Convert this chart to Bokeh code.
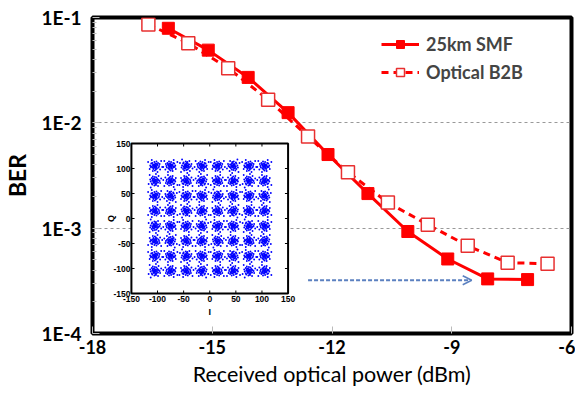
from bokeh.plotting import figure
from bokeh.models import (FixedTicker, CustomJSTickFormatter, Range1d, LinearScale,
                          Arrow, OpenHead)
from bokeh.core.properties import value
from bokeh.embed import file_html
from bokeh.resources import INLINE

# ---- data ----
smf_x = [-16.1, -15.1, -14.1, -13.1, -12.1, -11.1, -10.1, -9.1, -8.1, -7.1]
smf_ber = [7.9e-2, 4.9e-2, 2.7e-2, 1.25e-2, 5.0e-3, 2.13e-3, 9.3e-4, 5.1e-4, 3.3e-4, 3.25e-4]
b2b_x = [-16.6, -15.6, -14.6, -13.6, -12.6, -11.6, -10.6, -9.6, -8.6, -7.6, -6.6]
b2b_ber = [8.6e-2, 5.7e-2, 3.3e-2, 1.66e-2, 7.4e-3, 3.4e-3, 1.75e-3, 1.08e-3, 6.8e-4, 4.7e-4, 4.6e-4]
x_ticks = [-18, -15, -12, -9, -6]
y_ticks = [1e-4, 1e-3, 1e-2, 1e-1]
arrow_x = [-12.6, -8.5]
arrow_ber = 3.2e-4

# inset (64-QAM constellation)
qam_levels = [-105, -75, -45, -15, 15, 45, 75, 105]
inset_ticks = [-150, -100, -50, 0, 50, 100, 150]
cluster_offsets = [(0, 0), (3, 2), (-2, 4), (5, -3), (-4, -2), (1, -5), (-6, 1), (7, 3),
                   (-3, 6), (2, 7), (-7, -5), (6, -6), (-1, -8), (8, 0), (-8, 2), (4, 5),
                   (-5, -6), (0, 9), (9, -4), (-9, -1), (3, -9), (-2, -3), (2, 1), (-1, 2),
                   (1, -1), (-3, 0), (4, -1), (0, -3), (10, 7), (-10, 6), (12, -10), (-4, 10),
                   (5, 12), (-13, -8), (14, 2), (-6, -12), (1, 4), (-2, -1), (3, -4), (-5, 3)]

RED = "#ff0000"
FONT = "Lato"

p = figure(width=575, height=397, y_axis_type="log",
           x_range=Range1d(-18, -6), y_range=Range1d(1e-4, 1e-1),
           output_backend="svg", toolbar_location=None,
           min_border_left=91, min_border_right=4, min_border_top=17, min_border_bottom=64)

p.extra_x_ranges = {"ix": Range1d(-224.5, 692.7)}
p.extra_y_ranges = {"iy": Range1d(-230, 402)}
p.extra_x_scales = {"ix": LinearScale()}
p.extra_y_scales = {"iy": LinearScale()}

p.outline_line_color = "black"
p.outline_line_width = 4
p.background_fill_color = "white"
p.border_fill_color = "white"

# axes
p.xaxis.ticker = FixedTicker(ticks=x_ticks)
p.xaxis.formatter = CustomJSTickFormatter(code="return String(tick);")
minor = []
for d in [1e-4, 1e-3, 1e-2]:
    for k in range(2, 10):
        minor.append(d * k)
p.yaxis.ticker = FixedTicker(ticks=y_ticks, minor_ticks=minor)
p.yaxis.formatter = CustomJSTickFormatter(code="return '1E' + Math.round(Math.log10(tick));")
for ax in (p.xaxis, p.yaxis):
    ax.axis_line_color = None
    ax.major_tick_out = 0
    ax.major_tick_in = 7
    ax.major_tick_line_color = "#bbbbbb"
    ax.major_tick_line_width = 1
    ax.major_label_text_font = FONT
    ax.major_label_text_font_style = "bold"
    ax.major_label_text_font_size = "18px"
    ax.major_label_text_color = "black"
p.yaxis.major_label_text_font_size = "19px"
p.xaxis.minor_tick_line_color = None
p.yaxis.minor_tick_in = 4
p.yaxis.minor_tick_out = 0
p.yaxis.minor_tick_line_color = "#bbbbbb"
p.xaxis.major_label_standoff = 6
p.yaxis.major_label_standoff = 11

p.xaxis.axis_label = "Received optical power (dBm)"
p.xaxis.axis_label_text_font = FONT
p.xaxis.axis_label_text_font_style = "normal"
p.xaxis.axis_label_text_font_size = "21.5px"
p.xaxis.axis_label_text_color = "black"
p.xaxis.axis_label_standoff = 4
p.yaxis.axis_label = "BER"
p.yaxis.axis_label_text_font = FONT
p.yaxis.axis_label_text_font_style = "bold"
p.yaxis.axis_label_text_font_size = "23px"
p.yaxis.axis_label_text_color = "black"
p.yaxis.axis_label_standoff = 7

p.xgrid.grid_line_color = None
p.ygrid.grid_line_color = "#999999"
p.ygrid.grid_line_dash = "3 3"
p.ygrid.grid_line_width = 1
p.ygrid.minor_grid_line_color = None

# curves
p.line(smf_x, smf_ber, line_color=RED, line_width=3, legend_label="25km SMF")
p.scatter(smf_x, smf_ber, marker="square", size=12, fill_color=RED, line_color=RED,
          legend_label="25km SMF")
p.line(b2b_x, b2b_ber, line_color=RED, line_width=3, line_dash="7 5", legend_label="Optical B2B")
p.scatter(b2b_x, b2b_ber, marker="square", size=13, fill_color="white", line_color="#e83030",
          line_width=1.5, legend_label="Optical B2B")

# arrow
p.add_layout(Arrow(end=OpenHead(size=9, line_color="#5b80c0", line_width=1.5),
                   x_start=arrow_x[0], y_start=arrow_ber, x_end=arrow_x[1], y_end=arrow_ber,
                   line_color="#5b80c0", line_width=2, line_dash="4 2"))

# legend
lg = p.legend[0]
lg.location = (289, 250)
lg.margin = 0
lg.padding = 0
lg.border_line_color = None
lg.background_fill_alpha = 0
lg.glyph_width = 38
lg.glyph_height = 20
lg.label_standoff = 7
lg.spacing = 6
lg.label_text_font = FONT
lg.label_text_font_style = "bold"
lg.label_text_font_size = "18px"
lg.label_height = 20

# inset
R = dict(x_range_name="ix", y_range_name="iy")
p.quad(left=[inset_ticks[0]], right=[inset_ticks[-1]], bottom=[inset_ticks[0]], top=[inset_ticks[-1]],
       fill_color="white", line_color="black", line_width=2, **R)
ix, iy = [], []
for i, cx in enumerate(qam_levels):
    for j, cy in enumerate(qam_levels):
        sx = -1 if i % 2 else 1
        sy = -1 if j % 2 else 1
        swap = (i + j) % 3 == 0
        for (dx, dy) in cluster_offsets:
            if swap:
                dx, dy = dy, dx
            ix.append(cx + sx * dx)
            iy.append(cy + sy * dy)
p.scatter(ix, iy, marker="circle", size=1.9, fill_color="#0000ff", line_color=None, **R)

lo, hi = inset_ticks[0], inset_ticks[-1]
tx = inset_ticks[1:-1]
p.segment(x0=tx, x1=tx, y0=[lo] * len(tx), y1=[lo + 6] * len(tx), line_color="black", line_width=1, **R)
p.segment(x0=tx, x1=tx, y0=[hi] * len(tx), y1=[hi - 6] * len(tx), line_color="black", line_width=1, **R)
p.segment(x0=[lo] * len(tx), x1=[lo + 6] * len(tx), y0=tx, y1=tx, line_color="black", line_width=1, **R)
p.segment(x0=[hi] * len(tx), x1=[hi - 6] * len(tx), y0=tx, y1=tx, line_color="black", line_width=1, **R)

labs = [str(t) for t in inset_ticks]
p.text(x=inset_ticks, y=[lo] * len(inset_ticks), text=labs, text_align="center", text_baseline="top",
       y_offset=2, text_font=value("Liberation Sans"), text_font_style="bold", text_font_size="8.5px",
       text_color="black", **R)
p.text(x=[lo] * len(inset_ticks), y=inset_ticks, text=labs, text_align="right", text_baseline="middle",
       x_offset=-1, text_font=value("Liberation Sans"), text_font_style="bold", text_font_size="8.5px",
       text_color="black", **R)
p.text(x=[0], y=[lo], text=["I"], text_align="center", text_baseline="top", y_offset=13,
       text_font=value("Liberation Sans"), text_font_style="bold", text_font_size="9px",
       text_color="black", **R)
p.text(x=[lo], y=[0], text=["Q"], text_align="center", text_baseline="bottom", x_offset=-15,
       angle=1.5708, text_font=value("Liberation Sans"), text_font_style="bold", text_font_size="9px",
       text_color="black", **R)

open("out.html", "w").write(file_html(p, INLINE))
